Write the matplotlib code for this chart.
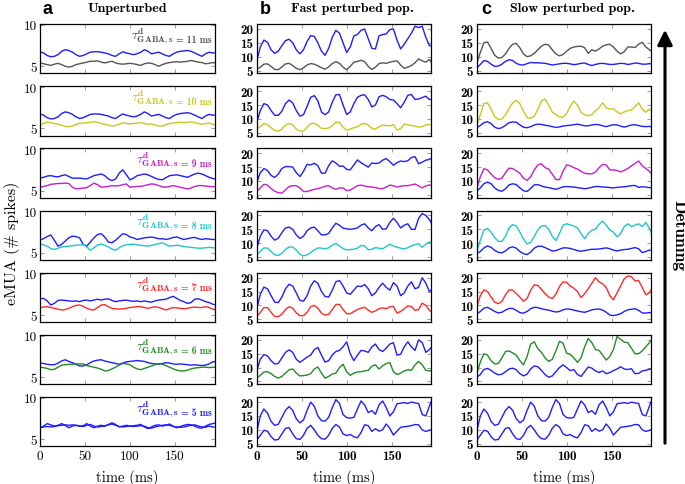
import matplotlib
matplotlib.use("Agg")
import matplotlib.pyplot as plt
from matplotlib.patches import FancyArrowPatch
import numpy as np

# Figure constants (reference is 685 x 485 px)
FIG_W_PX = 685
FIG_H_PX = 485
DPI = 100

# sample times (ms)
time_ms = np.arange(0, 197, 4)

# detuning values and colours, top row to bottom row
tau_values = [11, 10, 9, 8, 7, 6, 5]
tau_colors = ["#555555", "#c8c81e", "#c81ec8", "#1ec8c8", "#ff2a2a", "#238c23", "#1e1eff"]
ref_color = "#1e1eff"

# ---- column a: unperturbed (reference = blue, detuned = coloured) ----
a_ref_11 = [6.75, 6.6, 6.3, 6.15, 6.2, 6.4, 6.8, 7.0, 6.9, 6.7, 6.4, 6.2, 6.3, 6.5, 6.7, 6.75, 6.75, 6.7, 6.6, 6.5,
            6.3, 6.2, 6.5, 6.75, 6.6, 6.5, 6.4, 6.5, 6.7, 7.0, 6.8, 6.5, 6.6, 6.7, 6.5, 6.3, 6.2, 6.5, 6.7, 6.8,
            6.85, 6.9, 6.8, 6.6, 6.4, 6.2, 6.5, 6.7, 6.6, 6.6]
a_det_11 = [5.4, 5.3, 5.2, 5.1, 5.25, 5.35, 5.2, 5.0, 4.9, 5.0, 5.2, 5.3, 5.4, 5.5, 5.6, 5.6, 5.65, 5.5, 5.4, 5.5,
            5.6, 5.4, 5.3, 5.25, 5.3, 5.35, 5.3, 5.2, 5.1, 5.3, 5.4, 5.35, 5.2, 5.0, 5.2, 5.35, 5.45, 5.5, 5.55, 5.5,
            5.55, 5.6, 5.7, 5.6, 5.5, 5.45, 5.3, 5.35, 5.45, 5.4]
a_ref_10 = a_ref_11
a_det_10 = [5.4, 5.6, 5.75, 5.7, 5.6, 5.5, 5.4, 5.25, 5.2, 5.3, 5.5, 5.6, 5.65, 5.7, 5.75, 5.8, 5.75, 5.6, 5.5, 5.4,
            5.3, 5.35, 5.5, 5.7, 5.6, 5.55, 5.6, 5.65, 5.7, 5.6, 5.5, 5.55, 5.4, 5.3, 5.3, 5.45, 5.6, 5.65, 5.7, 5.75,
            5.7, 5.75, 5.8, 5.7, 5.6, 5.5, 5.6, 5.65, 5.5, 5.4]
a_ref_9 = [6.5, 6.6, 6.75, 6.8, 6.7, 6.65, 6.8, 6.9, 6.7, 6.5, 6.5, 6.5, 6.45, 6.4, 6.6, 6.8, 6.9, 7.0, 6.8, 6.4,
           6.2, 6.4, 7.1, 7.5, 6.9, 6.3, 6.5, 6.8, 6.9, 7.0, 6.9, 6.7, 6.5, 6.35, 6.3, 6.55, 6.8, 6.85, 6.9, 6.8,
           6.7, 6.6, 6.8, 7.0, 7.1, 7.0, 6.8, 6.6, 6.45, 6.4]
a_det_9 = [5.4, 5.5, 5.6, 5.75, 5.8, 5.85, 5.85, 5.9, 5.85, 5.4, 5.2, 5.25, 5.3, 5.35, 5.6, 5.9, 5.7, 5.4, 5.45, 5.5,
           5.6, 5.55, 5.6, 5.7, 5.8, 5.4, 5.45, 5.5, 5.5, 5.6, 5.7, 5.8, 5.75, 5.6, 5.45, 5.4, 5.5, 5.6, 5.5, 5.4,
           5.3, 5.2, 5.3, 5.5, 5.6, 5.6, 5.55, 5.5, 5.45, 5.5]
a_ref_8 = [6.55, 6.7, 6.95, 7.15, 6.5, 5.8, 6.0, 6.4, 6.8, 7.0, 6.95, 6.8, 6.0, 5.8, 6.3, 6.8, 7.2, 7.3, 6.9, 6.3,
           6.2, 6.5, 6.9, 7.3, 7.2, 6.9, 6.8, 6.6, 6.7, 6.8, 6.85, 6.9, 6.8, 6.7, 6.7, 6.6, 6.7, 6.85, 6.9, 6.75,
           6.6, 6.7, 6.8, 6.85, 6.7, 6.6, 6.7, 6.65, 6.6, 6.6]
a_det_8 = [6.1, 5.95, 5.8, 5.5, 5.4, 5.55, 5.7, 5.75, 5.8, 5.85, 5.9, 5.95, 6.0, 5.7, 5.3, 5.6, 5.95, 6.05, 5.9, 5.7,
           5.45, 5.3, 5.6, 5.85, 5.95, 6.0, 6.05, 5.95, 5.9, 5.85, 5.8, 5.9, 6.0, 6.1, 6.2, 6.0, 5.8, 5.85, 5.9, 5.85,
           5.75, 5.7, 5.65, 5.6, 5.55, 5.55, 5.6, 5.65, 5.6, 5.6]
a_ref_7 = [6.95, 7.0, 6.7, 6.2, 6.4, 6.75, 6.8, 6.75, 6.7, 6.65, 6.7, 6.6, 6.75, 6.8, 6.7, 6.8, 6.9, 6.8, 6.9, 6.95,
           6.75, 6.6, 6.7, 6.75, 6.8, 6.7, 6.65, 6.7, 6.6, 6.7, 6.6, 6.55, 6.7, 6.8, 6.85, 6.9, 7.1, 7.25, 7.0, 6.75,
           6.6, 6.4, 6.5, 6.9, 6.95, 6.8, 6.6, 6.5, 6.3, 6.2]
a_det_7 = [5.9, 5.95, 6.0, 5.9, 5.8, 5.7, 5.6, 5.65, 5.8, 6.0, 6.15, 6.2, 6.05, 5.8, 5.65, 5.6, 5.9, 6.2, 6.25, 6.0,
           5.8, 5.75, 5.7, 5.75, 5.8, 5.9, 5.95, 6.0, 6.0, 5.9, 5.8, 5.9, 6.0, 5.9, 5.75, 5.6, 5.75, 5.9, 5.85, 5.8,
           5.75, 5.8, 5.9, 5.95, 5.9, 5.9, 6.0, 5.9, 5.7, 5.6]
a_ref_6 = [6.7, 6.65, 6.55, 6.5, 6.5, 6.7, 6.95, 7.1, 6.9, 6.75, 6.55, 6.35, 6.35, 6.5, 6.75, 6.95, 7.05, 7.1, 6.95, 6.85,
           6.75, 6.65, 6.55, 6.7, 6.85, 6.9, 6.95, 7.0, 6.95, 6.9, 6.75, 6.65, 6.6, 6.55, 6.65, 6.75, 6.7, 6.6, 6.55, 6.6,
           6.55, 6.5, 6.45, 6.5, 6.45, 6.4, 6.45, 6.6, 6.85, 6.9]
a_det_6 = [6.2, 6.15, 6.05, 5.9, 5.95, 6.2, 6.45, 6.5, 6.55, 6.55, 6.6, 6.6, 6.6, 6.4, 6.3, 6.2, 6.1, 5.95, 5.75, 5.8,
           6.0, 6.2, 6.45, 6.65, 6.6, 6.5, 6.2, 6.0, 5.9, 6.05, 6.2, 6.35, 6.5, 6.65, 6.55, 6.4, 6.2, 6.0, 5.85, 5.75,
           5.75, 5.85, 6.0, 6.1, 6.15, 6.2, 6.2, 6.15, 6.2, 6.2]
a_ref_5 = [6.4, 6.5, 6.55, 6.5, 6.55, 6.65, 6.7, 6.75, 6.7, 6.75, 6.7, 6.6, 6.55, 6.7, 6.8, 6.6, 6.5, 6.55, 6.6, 6.75,
           6.85, 6.7, 6.55, 6.5, 6.55, 6.6, 6.55, 6.6, 6.65, 6.6, 6.4, 6.35, 6.5, 6.6, 6.7, 6.75, 6.7, 6.55, 6.5, 6.45,
           6.5, 6.6, 6.7, 6.75, 6.6, 6.5, 6.45, 6.6, 6.5, 6.45]
a_det_5 = [6.45, 6.6, 6.9, 6.75, 6.6, 6.7, 6.9, 6.7, 6.4, 6.6, 6.7, 6.6, 6.65, 6.9, 6.6, 6.4, 6.6, 6.7, 6.6, 6.8,
           7.0, 6.8, 6.5, 6.6, 6.7, 6.6, 6.65, 6.7, 6.8, 6.5, 6.3, 6.5, 6.7, 6.75, 6.6, 6.7, 6.85, 6.6, 6.4, 6.55,
           6.7, 6.8, 6.75, 6.6, 6.4, 6.35, 6.6, 6.8, 6.9, 7.0]

# ---- column b: fast perturbed population ----
b_ref_11 = [8.5, 13.5, 16.0, 15.2, 12.5, 11.2, 12.0, 14.0, 15.8, 16.3, 15.0, 12.5, 11.0, 12.5, 15.5, 17.6, 17.3, 15.0, 12.0, 10.5,
            13.0, 17.0, 19.5, 18.5, 15.0, 11.5, 13.5, 17.5, 18.0, 19.5, 20.0, 16.5, 13.0, 12.8, 17.5, 18.0, 18.2, 19.8, 20.0, 16.0,
            12.8, 14.5, 16.5, 18.5, 21.0, 20.5, 21.0, 17.0, 14.0, 13.8]
b_det_11 = [5.5, 6.2, 7.3, 7.4, 6.5, 5.4, 5.3, 6.3, 7.4, 7.6, 6.8, 5.8, 5.3, 6.0, 7.0, 7.5, 7.3, 6.7, 6.0, 5.5,
            6.3, 7.5, 8.2, 7.6, 6.2, 5.3, 6.5, 8.0, 8.3, 8.7, 8.2, 6.5, 5.4, 6.2, 7.5, 7.8, 7.6, 8.0, 8.3, 8.5,
            7.0, 5.8, 6.2, 6.8, 7.8, 9.2, 8.5, 8.0, 9.0, 7.0]
b_ref_10 = [8.6, 13.0, 15.5, 15.0, 13.0, 11.3, 11.3, 12.8, 15.5, 16.8, 15.8, 13.0, 11.0, 11.5, 14.5, 17.8, 18.4, 16.5, 12.5, 11.5,
            12.5, 16.0, 18.7, 18.8, 15.0, 11.6, 12.5, 15.5, 17.8, 18.5, 18.7, 17.0, 14.3, 15.0, 18.0, 18.5, 18.0, 17.0, 16.8, 15.5,
            14.0, 16.0, 18.5, 18.8, 17.0, 17.2, 17.7, 18.2, 17.0, 17.2]
b_det_10 = [6.2, 7.2, 8.3, 8.0, 6.8, 5.8, 5.6, 6.3, 7.8, 8.4, 7.8, 6.3, 5.6, 5.6, 7.0, 8.3, 8.4, 7.6, 6.6, 6.5,
            6.7, 7.5, 8.8, 8.7, 7.0, 5.9, 6.3, 6.8, 7.2, 8.0, 8.4, 7.8, 6.6, 6.3, 7.2, 7.8, 7.6, 7.5, 7.9, 6.0,
            6.5, 8.1, 7.9, 7.6, 7.4, 7.0, 7.2, 7.8, 8.0, 7.4]
b_ref_9 = [9.5, 13.0, 14.5, 13.8, 12.0, 11.3, 12.5, 14.5, 15.2, 15.2, 15.0, 13.0, 11.6, 13.5, 16.0, 15.8, 16.4, 15.5, 12.8, 12.8,
           15.5, 17.3, 16.5, 15.3, 15.4, 14.2, 14.0, 15.8, 17.6, 16.6, 15.8, 15.0, 16.5, 16.3, 16.5, 17.5, 18.1, 17.0, 15.7, 16.6,
           17.2, 17.0, 17.3, 18.5, 18.8, 16.2, 16.8, 17.5, 17.8, 18.5]
b_det_9 = [6.1, 7.5, 8.8, 8.5, 7.3, 6.3, 5.8, 5.6, 6.8, 8.0, 8.3, 8.3, 7.5, 6.2, 6.2, 6.6, 7.0, 7.2, 7.6, 8.1,
           8.3, 7.5, 7.0, 7.5, 7.5, 6.5, 6.7, 7.5, 8.3, 8.5, 8.2, 7.9, 7.8, 7.6, 7.3, 7.2, 7.8, 8.5, 8.3, 7.8,
           8.1, 8.3, 8.3, 8.6, 8.9, 8.2, 7.5, 8.2, 8.6, 7.9]
b_ref_8 = [8.1, 12.5, 14.8, 14.5, 12.5, 11.1, 11.8, 13.8, 15.5, 15.8, 15.0, 13.0, 11.7, 12.5, 14.5, 15.5, 15.8, 14.5, 13.0, 13.0,
           13.5, 15.5, 17.2, 16.5, 15.4, 15.2, 15.0, 15.2, 15.5, 16.5, 17.0, 15.5, 14.5, 16.0, 16.7, 15.0, 15.2, 17.5, 19.0, 17.5,
           15.5, 16.5, 17.0, 15.0, 15.0, 19.0, 20.7, 20.0, 18.5, 16.3]
b_det_8 = [5.9, 7.0, 8.3, 8.2, 7.0, 5.8, 5.6, 6.3, 7.8, 8.6, 8.6, 7.5, 6.0, 5.4, 5.8, 6.6, 7.6, 8.3, 8.2, 8.0,
           8.3, 9.3, 9.9, 9.0, 8.0, 7.6, 7.7, 7.8, 8.2, 9.2, 9.0, 7.6, 7.8, 8.4, 8.2, 8.0, 8.8, 9.6, 9.0, 8.5,
           8.2, 7.9, 8.4, 9.0, 9.5, 9.8, 8.5, 9.6, 10.5, 9.2]
b_ref_7 = [8.75, 14.0, 16.6, 16.0, 13.5, 11.2, 11.0, 13.0, 16.0, 17.6, 17.0, 14.5, 11.8, 11.5, 13.5, 17.0, 18.9, 18.0, 15.0, 13.2,
           13.0, 15.5, 18.5, 19.0, 17.0, 14.5, 14.0, 15.5, 17.0, 16.8, 17.5, 16.0, 13.5, 14.5, 16.5, 18.0, 16.5, 15.5, 18.2, 17.0,
           13.5, 14.5, 17.0, 18.5, 16.0, 16.5, 20.0, 18.0, 15.0, 16.0]
b_det_7 = [6.0, 7.5, 9.2, 9.2, 7.5, 6.0, 5.9, 6.8, 8.5, 9.5, 9.0, 7.3, 6.3, 6.3, 7.5, 9.5, 10.0, 9.0, 7.2, 6.5,
           6.8, 8.5, 10.3, 10.4, 8.5, 7.0, 7.0, 7.8, 8.5, 9.0, 9.3, 8.3, 7.5, 8.0, 8.8, 9.1, 8.8, 9.5, 9.6, 7.2,
           7.8, 8.8, 9.8, 9.6, 8.2, 8.5, 10.8, 10.0, 8.2, 7.4]
b_ref_6 = [8.9, 13.0, 14.7, 14.2, 12.5, 11.3, 11.5, 13.5, 15.5, 16.4, 15.5, 13.0, 11.9, 12.8, 13.8, 14.5, 16.5, 17.3, 14.5, 12.0,
           12.5, 14.5, 15.8, 16.2, 17.5, 19.3, 15.0, 12.5, 14.5, 16.2, 16.0, 15.5, 17.5, 18.5, 16.5, 15.8, 17.0, 18.5, 19.0, 14.5,
           14.8, 17.5, 19.3, 17.5, 16.2, 20.0, 19.0, 15.5, 16.5, 18.0]
b_det_6 = [6.2, 7.2, 8.4, 8.5, 7.8, 6.8, 6.2, 6.8, 8.0, 9.2, 9.5, 8.0, 7.0, 7.1, 7.3, 7.8, 9.5, 10.2, 8.0, 6.2,
           6.8, 7.7, 8.0, 10.0, 11.2, 8.5, 7.2, 8.0, 8.4, 8.5, 8.8, 9.0, 10.5, 11.0, 9.5, 10.6, 11.5, 11.8, 8.5, 7.5,
           8.0, 8.8, 9.2, 9.0, 11.0, 12.2, 11.0, 9.0, 8.8, 9.0]
# tau = 5 ms: both populations identical (same curves in panels b and c)
b_ref_5 = [9.4, 15.0, 17.5, 16.0, 13.0, 11.6, 12.0, 14.5, 17.0, 18.4, 17.0, 14.0, 12.5, 13.5, 17.0, 20.0, 18.5, 15.0, 13.3, 13.1,
           14.5, 18.0, 20.9, 19.5, 15.5, 14.4, 14.2, 14.5, 17.5, 20.4, 19.0, 16.2, 16.9, 15.6, 19.0, 20.4, 18.0, 15.0, 16.5, 19.4,
           19.6, 19.8, 19.5, 20.0, 19.7, 19.5, 15.5, 15.0, 18.5, 21.9]
b_det_5 = [6.25, 8.0, 9.8, 9.5, 7.5, 6.3, 6.5, 8.5, 10.5, 10.8, 8.5, 6.8, 6.5, 8.0, 10.5, 11.6, 10.0, 8.0, 6.8, 6.6,
           8.0, 10.5, 11.9, 11.0, 8.5, 7.9, 8.3, 7.5, 7.1, 9.0, 11.8, 11.5, 9.4, 10.4, 9.5, 10.0, 12.1, 10.5, 8.1, 9.5,
           10.9, 11.1, 11.25, 11.5, 11.9, 11.8, 10.0, 9.4, 9.8, 10.4]

# ---- column c: slow perturbed population (reference = blue) ----
c_det_11 = [7.5, 11.5, 15.0, 15.3, 13.0, 10.5, 9.5, 9.7, 11.0, 13.0, 14.5, 14.8, 13.2, 11.0, 10.0, 10.3, 11.2, 12.5, 13.8, 14.5,
            14.2, 12.5, 11.0, 10.3, 10.8, 12.0, 13.0, 13.5, 13.7, 13.8, 13.2, 11.2, 12.5, 12.0, 12.8, 13.8, 14.3, 14.5, 13.5, 12.0,
            11.0, 11.8, 13.5, 13.5, 13.3, 14.5, 15.2, 13.5, 12.5, 11.5]
c_ref_11 = [5.9, 7.2, 8.6, 8.3, 7.3, 6.5, 6.6, 7.3, 8.3, 8.9, 8.6, 7.6, 7.1, 7.0, 7.5, 7.9, 7.8, 7.8, 7.7, 7.6,
            7.3, 7.0, 7.2, 7.4, 7.6, 7.6, 7.4, 7.1, 7.3, 7.6, 7.7, 7.2, 6.8, 7.2, 7.5, 7.6, 7.4, 7.2, 7.2, 7.4,
            7.6, 7.5, 7.2, 7.4, 7.7, 7.6, 7.3, 7.3, 7.5, 7.2]
c_det_10 = [7.5, 11.5, 15.5, 15.8, 13.5, 10.8, 9.8, 10.0, 11.5, 13.8, 15.8, 16.7, 15.5, 12.8, 10.5, 10.2, 11.0, 13.5, 16.5, 17.2,
            15.0, 12.5, 11.5, 10.7, 10.6, 12.0, 14.5, 16.4, 15.0, 12.3, 11.5, 11.2, 11.5, 13.0, 14.0, 15.8, 14.0, 13.5, 13.7, 12.5,
            11.8, 12.5, 13.0, 13.2, 14.5, 15.8, 13.5, 12.4, 13.5, 12.5]
c_ref_10 = [6.8, 7.6, 8.6, 9.0, 8.3, 7.0, 6.5, 6.8, 7.7, 8.6, 8.9, 8.8, 7.8, 7.0, 6.8, 7.2, 7.8, 8.1, 8.0, 7.7,
            7.5, 7.2, 6.9, 7.1, 7.4, 7.6, 7.7, 7.9, 8.1, 7.8, 7.5, 7.5, 7.8, 8.0, 7.9, 7.5, 7.2, 7.6, 7.9, 7.8,
            7.4, 7.0, 7.4, 7.8, 7.9, 7.6, 7.3, 7.2, 7.3, 6.9]
c_det_9 = [7.2, 11.5, 14.4, 14.0, 12.5, 11.2, 10.6, 11.0, 13.0, 14.6, 14.5, 13.7, 12.8, 11.0, 10.2, 11.5, 14.0, 15.8, 16.2, 14.8,
           14.3, 12.5, 10.5, 10.5, 13.5, 15.8, 15.5, 14.8, 14.3, 13.5, 12.8, 12.6, 12.6, 13.2, 14.8, 16.0, 15.8, 14.0, 14.0, 13.8,
           13.3, 13.8, 14.5, 15.5, 16.3, 17.2, 15.5, 14.5, 13.5, 11.8]
c_ref_9 = [6.3, 7.5, 9.0, 9.6, 9.0, 7.5, 6.6, 6.3, 7.2, 8.6, 9.0, 8.7, 7.5, 6.5, 6.2, 7.3, 8.6, 8.7, 8.2, 7.8,
           7.6, 7.3, 7.0, 7.4, 7.9, 8.0, 7.9, 7.8, 7.6, 7.4, 7.2, 7.4, 7.7, 8.0, 8.0, 7.8, 7.8, 7.6, 7.5, 7.7,
           7.8, 7.9, 8.1, 8.3, 8.4, 7.7, 7.9, 7.8, 7.6, 7.6]
c_det_8 = [7.1, 11.0, 14.8, 15.3, 14.0, 12.0, 10.7, 10.6, 12.5, 15.5, 16.7, 16.2, 14.0, 11.5, 9.7, 10.3, 12.5, 14.8, 16.2, 16.4,
           15.0, 12.5, 10.9, 13.5, 16.5, 17.0, 16.6, 16.2, 15.5, 13.5, 11.6, 13.5, 14.7, 15.0, 16.8, 18.0, 16.5, 14.8, 14.0, 12.3,
           13.5, 16.0, 17.0, 16.0, 16.5, 17.0, 16.0, 17.5, 15.5, 12.3]
c_ref_8 = [6.3, 7.0, 8.3, 9.0, 8.5, 7.4, 6.7, 6.5, 7.2, 8.3, 8.7, 8.2, 7.0, 6.2, 5.9, 6.8, 8.2, 8.9, 8.9, 8.4,
           7.8, 7.2, 7.3, 7.8, 8.3, 8.3, 8.1, 7.7, 7.3, 7.1, 7.3, 7.6, 7.8, 7.8, 7.9, 8.1, 8.3, 8.0, 7.5, 7.2,
           7.5, 7.7, 7.8, 8.1, 8.4, 8.0, 6.6, 7.0, 7.5, 7.5]
c_det_7 = [9.4, 13.5, 15.6, 15.0, 13.0, 11.2, 10.6, 11.5, 13.8, 15.6, 15.5, 14.3, 13.0, 11.5, 12.5, 15.5, 17.4, 17.2, 15.8, 14.2,
           13.0, 12.5, 14.0, 16.8, 18.5, 18.3, 17.0, 16.2, 15.0, 12.8, 14.2, 16.0, 18.0, 20.0, 18.5, 17.8, 16.5, 13.5, 12.0, 14.5,
           17.0, 19.6, 20.6, 20.4, 18.8, 19.0, 16.5, 13.8, 14.5, 16.8]
c_ref_7 = [6.9, 7.8, 9.0, 9.3, 8.6, 7.8, 7.3, 7.5, 8.3, 8.9, 8.9, 8.2, 7.4, 7.2, 7.8, 8.8, 9.3, 9.2, 8.8, 8.5,
           8.3, 7.9, 7.6, 7.8, 8.4, 8.7, 8.6, 8.3, 8.0, 7.7, 7.5, 7.9, 8.4, 8.6, 8.7, 8.3, 7.5, 6.5, 6.3, 6.6,
           7.0, 7.8, 8.4, 8.6, 8.8, 8.2, 7.3, 7.2, 7.4, 7.5]
c_det_6 = [7.6, 12.0, 15.0, 14.5, 12.5, 11.3, 11.5, 13.5, 15.8, 16.0, 15.3, 14.5, 12.5, 11.0, 14.0, 18.5, 19.3, 16.8, 15.5, 13.5,
           12.2, 13.0, 16.0, 19.5, 18.8, 15.2, 14.8, 13.5, 11.9, 13.5, 17.5, 20.5, 19.0, 16.5, 16.2, 14.5, 12.7, 14.0, 16.5, 21.2,
           20.2, 19.2, 19.0, 17.0, 15.0, 15.0, 16.0, 17.5, 19.0, 20.8]
c_ref_6 = [6.5, 7.5, 9.3, 9.7, 9.0, 8.0, 7.4, 7.6, 8.5, 9.5, 9.8, 9.2, 7.8, 7.0, 7.6, 9.5, 10.6, 10.3, 9.0, 7.5,
           6.5, 7.0, 8.5, 10.0, 11.0, 10.0, 8.9, 9.3, 7.5, 6.8, 8.5, 10.2, 9.8, 8.8, 8.2, 8.8, 7.8, 8.2, 8.9, 9.5,
           10.3, 9.5, 9.3, 9.6, 7.8, 7.9, 8.8, 9.0, 9.4, 9.5]
c_det_5 = b_ref_5
c_ref_5 = b_det_5

# (reference, detuned) pairs per row, per column
col_a = [(a_ref_11, a_det_11), (a_ref_10, a_det_10), (a_ref_9, a_det_9), (a_ref_8, a_det_8),
         (a_ref_7, a_det_7), (a_ref_6, a_det_6), (a_ref_5, a_det_5)]
col_b = [(b_ref_11, b_det_11), (b_ref_10, b_det_10), (b_ref_9, b_det_9), (b_ref_8, b_det_8),
         (b_ref_7, b_det_7), (b_ref_6, b_det_6), (b_ref_5, b_det_5)]
col_c = [(c_ref_11, c_det_11), (c_ref_10, c_det_10), (c_ref_9, c_det_9), (c_ref_8, c_det_8),
         (c_ref_7, c_det_7), (c_ref_6, c_det_6), (c_ref_5, c_det_5)]

# layout in reference pixels
COL_LEFT = [40, 256.7, 476.7]
COL_W = 174.5
ROW_TOP = [25, 87.2, 149.3, 211.5, 273.7, 335.9, 398.1]
ROW_H = 49.3

plt.rcParams["mathtext.fontset"] = "cm"
plt.rcParams["axes.formatter.use_mathtext"] = True


def px_axes(fig, left, top, w, h):
    return fig.add_axes([left / FIG_W_PX, 1 - (top + h) / FIG_H_PX, w / FIG_W_PX, h / FIG_H_PX])


def style_axes(ax, yticks, ylim, bottom_row, tick_font):
    ax.set_xlim(0, 194)
    ax.set_ylim(*ylim)
    ax.set_xticks([0, 50, 100, 150])
    ax.set_yticks(yticks)
    ax.set_xticklabels([str(v) for v in [0, 50, 100, 150]] if bottom_row else [])
    ax.set_yticklabels([str(v) for v in yticks])
    ax.tick_params(direction="in", length=3, width=0.6, color="0.55", top=True, right=True,
                   labelsize=9.5, pad=2.5)
    for lab in ax.get_xticklabels() + ax.get_yticklabels():
        lab.set_fontfamily([tick_font, "DejaVu Serif"])
    for sp in ax.spines.values():
        sp.set_linewidth(0.9)
    if bottom_row:
        ax.set_xlabel("time (ms)", fontsize=10.5, family=["cmr10", "DejaVu Serif"], labelpad=5)


def tau_label(ax, tau, color):
    # "= N ms" part, right aligned, then the tau symbol placed to its left
    rest = ax.text(0.985, 0.64, "= %d ms" % tau, transform=ax.transAxes, ha="right",
                   va="baseline", color=color, fontsize=7, family=["cmb10", "DejaVu Serif"])
    fig = ax.figure
    renderer = fig.canvas.get_renderer()
    bb = rest.get_window_extent(renderer=renderer)
    x0 = ax.transAxes.inverted().transform((bb.x0 - 2.5, bb.y0))[0]
    ax.text(x0, 0.70, r"$\tau^{\mathbf{d}}_{\mathbf{GABA,s}}$", transform=ax.transAxes,
            ha="right", va="baseline", color=color, fontsize=9.5)


def main():
    fig = plt.figure(figsize=(FIG_W_PX / DPI, FIG_H_PX / DPI), dpi=DPI)

    columns = [col_a, col_b, col_c]
    for ci, col in enumerate(columns):
        for ri, (ref, det) in enumerate(col):
            ax = px_axes(fig, COL_LEFT[ci], ROW_TOP[ri], COL_W, ROW_H)
            color = tau_colors[ri]
            ax.plot(time_ms, ref, color=ref_color, lw=1.0)
            ax.plot(time_ms, det, color=color, lw=1.0)
            if ci == 0:
                style_axes(ax, [5, 10], (4.15, 10.1), ri == 6, "cmr10")
                tau_label(ax, tau_values[ri], color)
            else:
                style_axes(ax, [5, 10, 15, 20], (4.0, 21.8), ri == 6, "cmb10")

    # column headers
    titles = ["Unperturbed", "Fast perturbed pop.", "Slow perturbed pop."]
    title_x = [127, 352, 572]
    letters = ["a", "b", "c"]
    letter_x = [47.5, 265.5, 486]
    for t, tx, l, lx in zip(titles, title_x, letters, letter_x):
        fig.text(tx / FIG_W_PX, 1 - 9 / FIG_H_PX, t, ha="center", va="center",
                 fontsize=10, family=["cmb10", "DejaVu Serif"])
        fig.text(lx / FIG_W_PX, 1 - 9.5 / FIG_H_PX, l, ha="center", va="center",
                 fontsize=13, fontweight="bold", family="Liberation Sans")

    fig.text(12 / FIG_W_PX, 1 - 243 / FIG_H_PX, "eMUA (# spikes)", rotation=90, ha="center",
             va="center", fontsize=11.5, family=["cmr10", "DejaVu Serif"])

    # detuning arrow
    arrow = FancyArrowPatch((665, FIG_H_PX - 447), (665, FIG_H_PX - 28), transform=None,
                            arrowstyle="-|>,head_length=6,head_width=3", lw=2.2, color="black",
                            mutation_scale=1.5)
    fig.add_artist(arrow)
    fig.text(679 / FIG_W_PX, 1 - 236 / FIG_H_PX, "Detuning", rotation=-90, ha="center",
             va="center", fontsize=12.5, family=["cmb10", "DejaVu Serif"])

    fig.savefig("out.png", dpi=DPI)
    plt.close(fig)


if __name__ == "__main__":
    main()
